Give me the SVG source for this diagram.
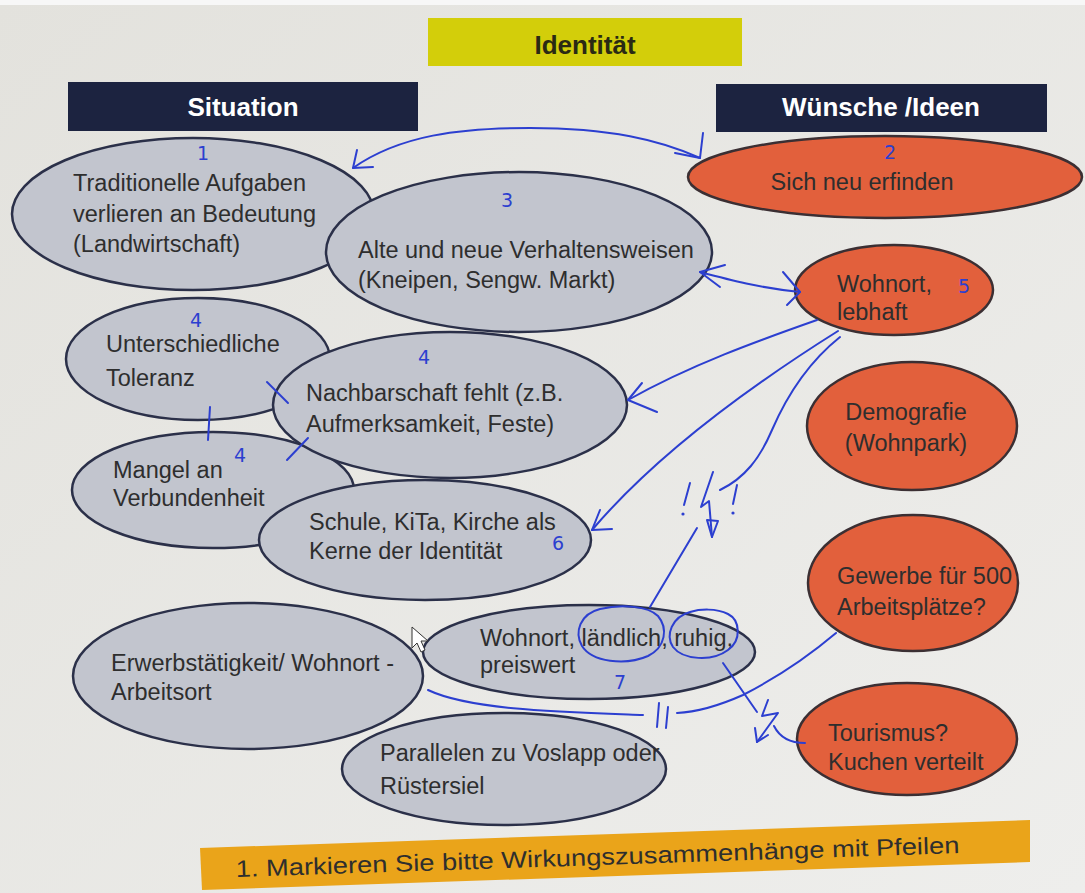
<svg xmlns="http://www.w3.org/2000/svg" width="1085" height="893" viewBox="0 0 1085 893">
<defs>
<linearGradient id="bg" x1="0" y1="0" x2="1" y2="1">
<stop offset="0" stop-color="#e3e2dd"/>
<stop offset="1" stop-color="#eeeeec"/>
</linearGradient>
<style>
.g{fill:#c2c5ce;stroke:#2b3049;stroke-width:2.5}
.o{fill:#e2603c;stroke:#3b2f33;stroke-width:2.5}
.t{font-family:"Liberation Sans",Arial,sans-serif;font-size:23.5px;fill:#2e2e2e}
.h{font-family:"Liberation Sans",Arial,sans-serif;font-size:26px;font-weight:bold}
.n{font-family:"DejaVu Sans",sans-serif;font-size:19px;fill:#2c3fd0}
.b{fill:none;stroke:#2c3fd0;stroke-width:2;stroke-linecap:round;stroke-linejoin:round}
</style>
</defs>
<rect x="0" y="0" width="1085" height="893" fill="url(#bg)"/>
<rect x="0" y="0" width="1085" height="5" fill="#f7f7f7"/>

<g id="title">
<rect x="428" y="18" width="314" height="48" fill="#d3ce0a"/>
<text class="h" x="585" y="54" text-anchor="middle" fill="#2a2a14">Identität</text>
</g>
<g id="situation">
<rect x="68" y="82" width="350" height="49" fill="#1c2340"/>
<text class="h" x="243" y="116" text-anchor="middle" fill="#ffffff">Situation</text>
</g>
<g id="wuensche">
<rect x="716" y="84" width="331" height="48" fill="#1c2340"/>
<text class="h" x="881" y="116" text-anchor="middle" fill="#ffffff">Wünsche /Ideen</text>
</g>

<g id="n1">
<ellipse class="g" cx="193" cy="214" rx="181" ry="76"/>
<text class="t" x="73" y="191">Traditionelle Aufgaben</text>
<text class="t" x="73" y="222">verlieren an Bedeutung</text>
<text class="t" x="73" y="252">(Landwirtschaft)</text>
<text class="n" x="203" y="160" text-anchor="middle">1</text>
</g>
<g id="n3">
<ellipse class="g" cx="519" cy="252" rx="193" ry="80"/>
<text class="t" x="358" y="258">Alte und neue Verhaltensweisen</text>
<text class="t" x="358" y="288">(Kneipen, Sengw. Markt)</text>
<text class="n" x="507" y="207" text-anchor="middle">3</text>
</g>
<g id="n2">
<ellipse class="o" cx="885" cy="177" rx="197" ry="41"/>
<text class="t" x="862" y="190" text-anchor="middle">Sich neu erfinden</text>
<text class="n" x="890" y="159" text-anchor="middle">2</text>
</g>
<g id="n5">
<ellipse class="o" cx="894" cy="290" rx="99" ry="45"/>
<text class="t" x="837" y="292">Wohnort,</text>
<text class="t" x="837" y="320">lebhaft</text>
<text class="n" x="964" y="293" text-anchor="middle">5</text>
</g>
<g id="demografie">
<ellipse class="o" cx="912" cy="426" rx="105" ry="64"/>
<text class="t" x="906" y="420" text-anchor="middle">Demografie</text>
<text class="t" x="906" y="451" text-anchor="middle">(Wohnpark)</text>
</g>
<g id="gewerbe">
<ellipse class="o" cx="913" cy="583" rx="105" ry="68"/>
<text class="t" x="837" y="584">Gewerbe für 500</text>
<text class="t" x="837" y="615">Arbeitsplätze?</text>
</g>
<g id="tourismus">
<ellipse class="o" cx="907" cy="739" rx="110" ry="56"/>
<text class="t" x="828" y="741">Tourismus?</text>
<text class="t" x="828" y="770">Kuchen verteilt</text>
</g>

<g id="n4a">
<ellipse class="g" cx="198" cy="359" rx="132" ry="61"/>
<text class="t" x="106" y="352">Unterschiedliche</text>
<text class="t" x="106" y="386">Toleranz</text>
<text class="n" x="196" y="327" text-anchor="middle">4</text>
</g>
<g id="n4c">
<ellipse class="g" cx="213" cy="490" rx="141" ry="58"/>
<text class="t" x="113" y="478">Mangel an</text>
<text class="t" x="113" y="506">Verbundenheit</text>
<text class="n" x="240" y="462" text-anchor="middle">4</text>
</g>
<g id="n4b">
<ellipse class="g" cx="450" cy="405" rx="177" ry="73"/>
<text class="t" x="306" y="401">Nachbarschaft fehlt (z.B.</text>
<text class="t" x="306" y="432">Aufmerksamkeit, Feste)</text>
<text class="n" x="424" y="364" text-anchor="middle">4</text>
</g>
<g id="n6">
<ellipse class="g" cx="425" cy="540" rx="166" ry="60"/>
<text class="t" x="309" y="530">Schule, KiTa, Kirche als</text>
<text class="t" x="309" y="559">Kerne der Identität</text>
<text class="n" x="558" y="550" text-anchor="middle">6</text>
</g>
<g id="erwerb">
<ellipse class="g" cx="248" cy="676" rx="175" ry="73"/>
<text class="t" x="111" y="671">Erwerbstätigkeit/ Wohnort -</text>
<text class="t" x="111" y="700">Arbeitsort</text>
</g>
<g id="n7">
<ellipse class="g" cx="589" cy="652" rx="166" ry="47"/>
<text class="t" x="480" y="646">Wohnort, ländlich, ruhig,</text>
<text class="t" x="480" y="673">preiswert</text>
<text class="n" x="620" y="689" text-anchor="middle">7</text>
</g>
<g id="parallelen">
<ellipse class="g" cx="504" cy="769" rx="162" ry="56"/>
<text class="t" x="380" y="761">Parallelen zu Voslapp oder</text>
<text class="t" x="380" y="794">Rüstersiel</text>
</g>

<g id="task">
<polygon points="200,848 1030,820 1030,862 202,890" fill="#eaa41a"/>
<text class="t" x="236" y="877" font-size="26" fill="#3a2c12" textLength="724" lengthAdjust="spacingAndGlyphs" transform="rotate(-1.9 236 877)">1. Markieren Sie bitte Wirkungszusammenhänge mit Pfeilen</text>
</g>

<g id="connectors">
<path class="b" d="M353,168 C400,135 460,128 530,128 C610,128 660,140 700,158"/>
<path class="b" d="M357,150 L353,168 L373,167"/>
<path class="b" d="M703,133 L700,158 L675,153"/>
<path class="b" d="M700,272 C730,280 760,288 800,292"/>
<path class="b" d="M725,265 L700,272 L720,287"/>
<path class="b" d="M783,272 L800,292 L787,305"/>
<path class="b" d="M817,320 C760,340 690,365 628,400"/>
<path class="b" d="M642,383 L628,400 L657,412"/>
<path class="b" d="M838,331 C760,380 660,450 592,530"/>
<path class="b" d="M600,510 L592,530 L612,529"/>
<path class="b" d="M840,337 C805,365 785,400 772,430 C760,458 745,478 720,490"/>
<path class="b" d="M697,528 L650,607"/>
<path class="b" d="M690,483 L684,505"/>
<circle cx="683" cy="514" r="1.6" fill="#2c3fd0"/>
<path class="b" d="M737,485 L733,504"/>
<circle cx="733" cy="513" r="1.6" fill="#2c3fd0"/>
<path class="b" d="M713,472 L701,507 L709,501 L712,537"/>
<path class="b" d="M707,520 L712,537 L718,521 Z"/>
<path class="b" d="M267,382 L288,403"/>
<path class="b" d="M210,407 L208,440"/>
<path class="b" d="M287,460 L308,438"/>
<path class="b" d="M600,609 C580,614 574,632 582,646 C592,662 625,666 648,656 C666,647 668,628 658,616 C648,606 622,604 600,609"/>
<path class="b" d="M690,612 C672,617 665,635 673,647 C683,660 712,662 728,650 C742,640 740,620 728,614 C716,608 700,609 690,612"/>
<path class="b" d="M428,690 C470,710 560,712 643,715"/>
<path class="b" d="M659,703 L657,727"/>
<path class="b" d="M668,707 L666,728"/>
<path class="b" d="M677,713 C700,712 725,703 743,695 C780,676 810,655 836,633"/>
<path class="b" d="M723,663 L757,712"/>
<path class="b" d="M768,700 L762,716 L778,713 L757,742"/>
<path class="b" d="M755,728 L757,742 L768,735"/>
<path class="b" d="M774,726 C780,738 790,743 805,743"/>
</g>

<g id="cursor">
<path d="M412,627 L412,648 L417,643 L421,652 L425,650 L421,641 L428,641 Z" fill="#ffffff" stroke="#333" stroke-width="1"/>
</g>
</svg>
